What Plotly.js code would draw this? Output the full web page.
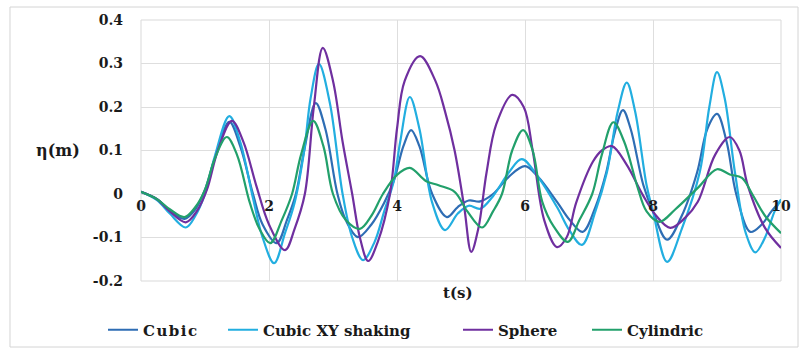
<!DOCTYPE html>
<html>
<head>
<meta charset="utf-8">
<script src="https://cdn.plot.ly/plotly-3.0.1.min.js"></script>
<style>
html,body{margin:0;padding:0;background:#fff;}
#chart{width:805px;height:350px;}
</style>
</head>
<body>
<div id="chart"></div>
<script>
const seriesNames = ["Cubic", "Cubic XY shaking", "Sphere", "Cylindric"];

const tCubic = [0,0.25,0.45,0.68,0.85,1.0,1.15,1.38,1.55,1.75,1.9,2.12,2.28,2.42,2.55,2.73,2.88,3.07,3.2,3.39,3.6,3.8,3.95,4.1,4.22,4.35,4.55,4.78,4.95,5.12,5.3,5.5,5.75,6.0,6.2,6.5,6.7,6.9,7.1,7.27,7.4,7.53,7.65,7.85,8.0,8.22,8.45,8.69,8.85,9.0,9.15,9.3,9.52,9.7,9.85,10];
const yCubic = [0.005,-0.012,-0.038,-0.057,-0.035,0.01,0.08,0.166,0.11,0.0,-0.07,-0.113,-0.06,0.0,0.1,0.209,0.15,0.0,-0.06,-0.099,-0.07,-0.02,0.03,0.11,0.147,0.11,0.0,-0.053,-0.03,-0.015,-0.017,0.0,0.04,0.064,0.04,-0.018,-0.06,-0.087,-0.03,0.05,0.14,0.193,0.15,0.02,-0.04,-0.105,-0.05,0.05,0.15,0.184,0.12,0.0,-0.087,-0.07,-0.04,-0.015];

const tXY = [0,0.25,0.45,0.7,0.85,1.0,1.15,1.38,1.55,1.75,1.9,2.08,2.25,2.4,2.55,2.65,2.78,2.95,3.15,3.3,3.47,3.65,3.8,3.95,4.05,4.2,4.35,4.55,4.75,4.95,5.12,5.3,5.5,5.75,5.95,6.2,6.5,6.7,6.89,7.1,7.28,7.45,7.59,7.72,7.9,8.0,8.22,8.45,8.73,8.88,9.0,9.12,9.28,9.45,9.6,9.75,9.9,10];
const yXY = [0.005,-0.014,-0.045,-0.077,-0.05,0.0,0.085,0.179,0.12,-0.01,-0.1,-0.159,-0.09,-0.02,0.1,0.22,0.299,0.21,0.0,-0.1,-0.152,-0.11,-0.04,0.03,0.12,0.223,0.15,-0.02,-0.083,-0.045,-0.027,-0.034,-0.005,0.05,0.08,0.04,-0.03,-0.085,-0.117,-0.04,0.05,0.19,0.256,0.19,0.02,-0.04,-0.156,-0.08,0.05,0.2,0.28,0.22,0.05,-0.09,-0.134,-0.1,-0.04,-0.012];

const tSphere = [0,0.25,0.45,0.7,0.87,1.03,1.2,1.42,1.6,1.8,2.0,2.25,2.4,2.56,2.7,2.84,3.0,3.15,3.3,3.42,3.55,3.7,3.89,4.0,4.12,4.36,4.6,4.75,4.9,5.05,5.16,5.27,5.4,5.55,5.8,5.98,6.12,6.3,6.5,6.65,6.8,7.06,7.2,7.36,7.59,7.84,8.05,8.27,8.5,8.7,8.97,9.2,9.35,9.48,9.75,10];
const ySphere = [0.005,-0.012,-0.04,-0.065,-0.04,0.01,0.1,0.168,0.12,0.02,-0.07,-0.129,-0.08,0.0,0.2,0.336,0.26,0.12,0.0,-0.1,-0.154,-0.11,0.0,0.15,0.26,0.317,0.26,0.19,0.1,-0.03,-0.133,-0.08,0.05,0.16,0.228,0.2,0.1,-0.06,-0.122,-0.1,-0.02,0.074,0.1,0.11,0.067,-0.002,-0.05,-0.078,-0.055,-0.018,0.09,0.131,0.1,0.02,-0.078,-0.124];

const tCyl = [0,0.25,0.45,0.68,0.85,1.0,1.15,1.34,1.5,1.7,1.85,2.02,2.2,2.36,2.5,2.69,2.85,3.0,3.2,3.42,3.6,3.78,4.0,4.2,4.45,4.65,4.9,5.1,5.33,5.5,5.64,5.8,5.97,6.12,6.27,6.45,6.67,6.85,7.05,7.2,7.38,7.55,7.75,7.9,8.1,8.35,8.7,9.0,9.2,9.39,9.55,9.75,10];
const yCyl = [0.005,-0.012,-0.035,-0.053,-0.03,0.01,0.08,0.131,0.09,-0.02,-0.08,-0.113,-0.06,0.0,0.09,0.168,0.11,0.0,-0.06,-0.08,-0.05,0.0,0.044,0.06,0.03,0.02,0.005,-0.04,-0.077,-0.04,0.0,0.1,0.147,0.1,-0.018,-0.075,-0.11,-0.06,0.0,0.09,0.165,0.12,0.02,-0.04,-0.064,-0.035,0.014,0.057,0.045,0.037,0.0,-0.05,-0.09];

const yTickVals = [-0.2,-0.1,0,0.1,0.2,0.3,0.4];
const yTickText = ["-0.2","-0.1","0","0.1","0.2","0.3","0.4"];
const xTickVals = [0,2,4,6,8,10];
const xTickText = ["0","2","4","6","8","10"];

const colors = ["#2E6DB4", "#22AEE0", "#6F2F9F", "#22A06B"];
const serif = "DejaVu Serif";
const txt = "#1a1a1a";

const xs = [tCubic, tXY, tSphere, tCyl];
const ys = [yCubic, yXY, ySphere, yCyl];
const legendIds = ["legend", "legend2", "legend3", "legend4"];
const legendLeft = [103, 223, 458, 587];

const traces = seriesNames.map((n, i) => ({
  type: "scatter", mode: "lines", name: n, legend: legendIds[i],
  x: xs[i], y: ys[i],
  line: {color: colors[i], width: 2.2, shape: "spline", smoothing: 1}
}));

const layout = {
  width: 805, height: 350,
  margin: {l: 141, r: 24, t: 20, b: 69},
  paper_bgcolor: "#fff", plot_bgcolor: "#fff",
  showlegend: true,
  xaxis: {
    range: [0, 10], tickvals: xTickVals, ticktext: xTickText,
    anchor: "free", position: 1/3,
    showgrid: true, gridcolor: "#dedede", gridwidth: 1,
    zeroline: false, showline: false, ticks: "",
    ticklabelstandoff: 2,
    tickfont: {family: serif, size: 14, color: txt, weight: "bold"}
  },
  yaxis: {
    range: [-0.2, 0.4], tickvals: yTickVals, ticktext: yTickText,
    showgrid: true, gridcolor: "#dedede", gridwidth: 1,
    zeroline: false, showline: false, ticks: "",
    ticklabelstandoff: 17,
    tickfont: {family: serif, size: 14, color: txt, weight: "bold"}
  },
  shapes: [
    {type: "rect", xref: "paper", yref: "paper", x0: 0, x1: 1, y0: 0, y1: 1,
     line: {color: "#d9d9d9", width: 1}, fillcolor: "rgba(0,0,0,0)", layer: "below"},
    {type: "rect", xref: "paper", yref: "paper", x0: -0.2047, x1: 1.0266, y0: -0.2529, y1: 1.0498,
     line: {color: "#d4d4d4", width: 1}, fillcolor: "rgba(0,0,0,0)", layer: "below"}
  ],
  annotations: [
    {text: "η(m)", xref: "paper", yref: "y", x: (58 - 141) / 640, y: 0.1,
     showarrow: false, xanchor: "center", yanchor: "middle",
     font: {family: serif, size: 16, color: txt, weight: "bold"}},
    {text: "t(s)", xref: "paper", yref: "paper", x: (458 - 141) / 640, y: (281 - 293) / 261,
     showarrow: false, xanchor: "center", yanchor: "middle",
     font: {family: serif, size: 15, color: txt, weight: "bold"}}
  ]
};

legendIds.forEach((id, i) => {
  layout[id] = {
    orientation: "h", xref: "container", yref: "container",
    x: legendLeft[i] / 805, y: 1 - 330 / 350, xanchor: "left", yanchor: "middle",
    font: {family: serif, size: 15, color: txt, weight: "bold"},
    itemwidth: 30, bgcolor: "rgba(0,0,0,0)"
  };
});

Plotly.newPlot("chart", traces, layout, {staticPlot: true, displayModeBar: false}).then(gd => {
  gd.querySelectorAll("text.legendtext").forEach(el => {
    el.style.letterSpacing = "1.5px";
    el.style.wordSpacing = "5px";
    el.setAttribute("letter-spacing", "1.5");
    el.setAttribute("word-spacing", "5");
  });
});
</script>
</body>
</html>
